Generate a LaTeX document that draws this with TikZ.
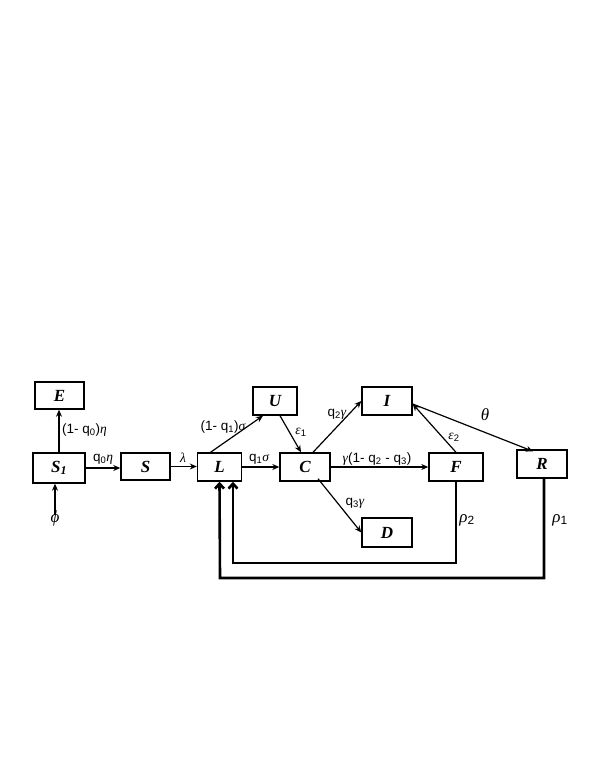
\documentclass[tikz,border=0pt]{standalone}
\usepackage{fontspec}
\setmainfont{Liberation Sans}
\newfontfamily\boxfont{Liberation Serif}
\newcommand{\gk}[1]{{\boxfont\itshape #1}}
\usetikzlibrary{arrows.meta,calc}
\tikzset{
  box/.style={draw,line width=1.4pt,inner sep=0pt,font=\boxfont\bfseries\itshape\fontsize{17}{17}\selectfont},
  arr/.style={-{Stealth[length=7pt,width=6pt]},line width=1.2pt},
  fb/.style={-{Straight Barb[length=5pt,width=9pt]},line width=2.6pt},
  lab/.style={inner sep=1pt,font=\fontsize{13.5}{13.5}\selectfont},
  biglab/.style={inner sep=1pt,font=\fontsize{17}{17}\selectfont}
}
\newcommand{\sbs}[1]{\textsubscript{#1}}
\begin{document}
\begin{tikzpicture}[x=1pt,y=-1pt]
\useasboundingbox (0,0) rectangle (595,770);
% boxes
\node[box,minimum width=49pt,minimum height=27pt] (E) at (59.5,395.5) {E};
\node[box,minimum width=52pt,minimum height=30pt] (S1) at (59,468) {S\sbs{1}};
\node[box,minimum width=49pt,minimum height=27pt] (S) at (145.5,466.5) {S};
\node[box,minimum width=44pt,minimum height=28pt] (L) at (219.5,467) {L};
\node[box,minimum width=44pt,minimum height=28pt] (U) at (275,401) {U};
\node[box,minimum width=50pt,minimum height=28pt] (C) at (305,467) {C};
\node[box,minimum width=50pt,minimum height=28pt] (I) at (387,401) {I};
\node[box,minimum width=54pt,minimum height=28pt] (F) at (456,467) {F};
\node[box,minimum width=50pt,minimum height=28pt] (R) at (542,464) {R};
\node[box,minimum width=50pt,minimum height=29pt] (D) at (387,532.5) {D};
\node[biglab] (phi) at (55,518) {\gk{ϕ}};
% arrows
\draw[arr] (S1.north) -- (S1.north |- E.south);
\draw[arr] ([yshift=-6pt]phi.north) -- (phi.north |- S1.south);
\draw[arr] (S1.east) -- (S1.east -| S.west);
\draw[arr] (S.east) -- (S.east -| L.west);
\draw[arr] (L.east) -- (L.east -| C.west);
\draw[arr] ([xshift=-9pt]L.north) -- ([xshift=-12pt]U.south);
\draw[arr] ([xshift=5pt]U.south) -- ([xshift=-4pt]C.north);
\draw[arr] ([xshift=8pt]C.north) -- (I.west);
\draw[arr] (C.east) -- (C.east -| F.west);
\draw[arr] ([xshift=13pt,yshift=3pt]C.south) -- (D.west);
\draw[arr] (F.north) -- ([yshift=-3pt]I.east);
\draw[arr] ([yshift=-3pt]I.east) -- ([xshift=-9pt,yshift=-2pt]R.north);
% feedback
\draw[fb] (F.south) |- (233,563) -- ([xshift=13.5pt]L.south);
\draw[fb] ([xshift=2pt]R.south) |- (220,578) -- (L.south);
% labels
\node[lab,anchor=west] (lE) at (61,430) {(1- q\sbs{0})\gk{η}};
\node[lab] (lS) at (103,459) {q\sbs{0}\gk{η}};
\node[lab] (lL) at (183,458) {\gk{λ}};
\node[lab] (lU) at (223,427) {(1- q\sbs{1})\gk{σ}};
\node[lab] (lC) at (259,459) {q\sbs{1}\gk{σ}};
\node[lab] (le1) at (301,432) {\gk{ε}\sbs{1}};
\node[lab] (lI) at (337,414) {q\sbs{2}\gk{γ}};
\node[lab] (lF) at (377,459) {\gk{γ}(1- q\sbs{2} - q\sbs{3})};
\node[lab] (lD) at (355,503) {q\sbs{3}\gk{γ}};
\node[lab] (le2) at (454,437) {\gk{ε}\sbs{2}};
\node[biglab] (lth) at (485,415) {\gk{θ}};
\node[biglab] (lr2) at (467,520) {\gk{ρ}\sbs{2}};
\node[biglab] (lr1) at (560,520) {\gk{ρ}\sbs{1}};
\end{tikzpicture}
\end{document}
